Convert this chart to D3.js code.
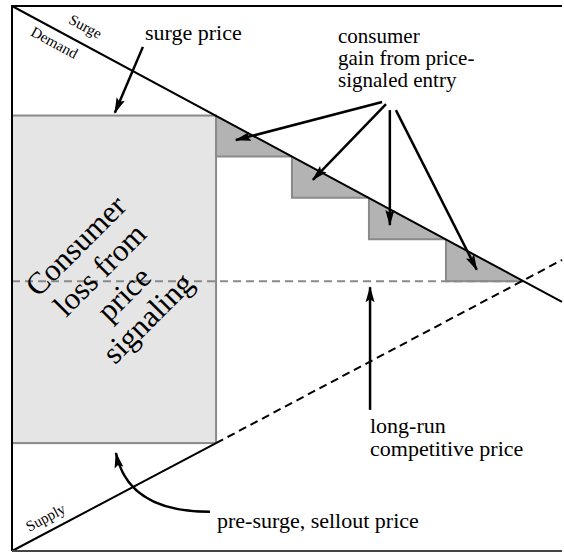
<!DOCTYPE html>
<html>
<head>
<meta charset="utf-8">
<script src="https://cdn.jsdelivr.net/npm/d3@7"></script>
<style>
    body { margin: 0; background: #fff; }
</style>
</head>
<body>
<div id="chart"></div>
<script>

// ---- data (quantity on x, price on y, both 0..10) ----
let demandQ = [0, 10];
let demandP = [10, 4.57];

let supplyQ = [0, 3.71, 10];          // solid up to the surge quantity, dashed after
let supplyP = [0, 1.98, 5.34];

let surgeQ = 3.71;
let surgePrice = 7.99;
let preSurgePrice = 1.98;
let competitivePrice = 4.95;

// quantities where new entrants come in, and the price at each
let entryQ = [3.71, 5.09, 6.49, 7.89, 9.29];
let entryP = [7.99, 7.24, 6.48, 5.72, 4.95];

// annotation arrows, in data units: [q0, p0, q1, p1]
let gainArrows = [
    [6.73, 8.24, 4.07, 7.54],
    [6.80, 8.20, 5.47, 6.81],
    [6.87, 8.09, 6.87, 5.98],
    [6.98, 8.09, 8.45, 5.16]
];
let surgeArrow = [2.38, 9.25, 1.87, 8.04];
let competitiveArrow = [6.51, 2.59, 6.51, 4.84];
let preSurgeArrow = [3.60, 0.72, 2.11, 0.72, 1.89, 1.80];   // start, control, end

let gainLabel = ["consumer", "gain from price-", "signaled entry"];
let competitiveLabel = ["long-run", "competitive price"];
let lossLabel = ["Consumer", "loss from", "price", "signaling"];


let width = 564, height = 554;
let serif = "'Liberation Serif', 'Times New Roman', 'DejaVu Serif', serif";

let svg = d3.select("#chart").append("svg")
    .attr("width", width)
    .attr("height", height)
    .attr("font-family", serif)
    .style("font-family", serif);

// scales
let x = d3.scaleLinear().domain([0, 10]).range([12, 562]);
let y = d3.scaleLinear().domain([0, 10]).range([551, 6]);

let line = d3.line().x(d => x(d[0])).y(d => y(d[1]));

// arrow head
svg.append("defs").append("marker")
    .attr("id", "head")
    .attr("viewBox", "0 0 16 10")
    .attr("refX", 15)
    .attr("refY", 5)
    .attr("markerWidth", 16)
    .attr("markerHeight", 10)
    .attr("markerUnits", "userSpaceOnUse")
    .attr("orient", "auto")
    .append("path")
    .attr("d", "M0,0.5 L16,5 L0,9.5 L3,5 Z")
    .attr("fill", "#000");

// consumer loss rectangle
svg.append("rect")
    .attr("x", x(0))
    .attr("y", y(surgePrice))
    .attr("width", x(surgeQ) - x(0))
    .attr("height", y(preSurgePrice) - y(surgePrice))
    .attr("fill", "#e5e5e5")
    .attr("stroke", "#8a8a8a")
    .attr("stroke-width", 2);

// consumer gain triangles
let steps = d3.range(entryQ.length - 1).map(i => ({
    q0: entryQ[i], q1: entryQ[i + 1], pTop: entryP[i], pBot: entryP[i + 1]
}));

svg.selectAll("path.gain")
    .data(steps)
    .enter()
    .append("path")
    .attr("class", "gain")
    .attr("d", d => line([[d.q0, d.pTop], [d.q1, d.pBot], [d.q0, d.pBot]]) + "Z")
    .attr("fill", "#b3b3b3");

svg.selectAll("path.step")
    .data(steps)
    .enter()
    .append("path")
    .attr("class", "step")
    .attr("d", d => line([[d.q0, d.pTop], [d.q0, d.pBot], [d.q1, d.pBot]]))
    .attr("fill", "none")
    .attr("stroke", "#8a8a8a")
    .attr("stroke-width", 2);

// long-run competitive price
svg.append("path")
    .attr("d", line([[0, competitivePrice], [entryQ[entryQ.length - 1], competitivePrice]]))
    .attr("stroke", "#8a8a8a")
    .attr("stroke-width", 2)
    .attr("stroke-dasharray", "8,5");

// demand
svg.append("path")
    .attr("d", line(demandQ.map((q, i) => [q, demandP[i]])))
    .attr("fill", "none")
    .attr("stroke", "#000")
    .attr("stroke-width", 2);

// supply: solid then dashed
let supplyPts = supplyQ.map((q, i) => [q, supplyP[i]]);
svg.append("path")
    .attr("d", line(supplyPts.slice(0, 2)))
    .attr("stroke", "#000")
    .attr("stroke-width", 2);
svg.append("path")
    .attr("d", line(supplyPts.slice(1)))
    .attr("stroke", "#000")
    .attr("stroke-width", 2)
    .attr("stroke-dasharray", "8,5");

// frame (top, left, bottom)
svg.append("path")
    .attr("d", "M" + x(10) + "," + y(10) + "H" + x(0) + "V" + y(0))
    .attr("fill", "none")
    .attr("stroke", "#000")
    .attr("stroke-width", 2);
svg.append("path")
    .attr("d", "M" + x(0) + "," + y(0) + "H" + x(10))
    .attr("stroke", "#444")
    .attr("stroke-width", 2);

// arrows
let arrows = gainArrows.concat([surgeArrow, competitiveArrow]);
svg.selectAll("line.arrow")
    .data(arrows)
    .enter()
    .append("line")
    .attr("class", "arrow")
    .attr("x1", d => x(d[0]))
    .attr("y1", d => y(d[1]))
    .attr("x2", d => x(d[2]))
    .attr("y2", d => y(d[3]))
    .attr("stroke", "#000")
    .attr("stroke-width", 2.5)
    .attr("marker-end", "url(#head)");

let a = preSurgeArrow;
svg.append("path")
    .attr("d", "M" + x(a[0]) + "," + y(a[1]) + "Q" + x(a[2]) + "," + y(a[3]) + " " + x(a[4]) + "," + y(a[5]))
    .attr("fill", "none")
    .attr("stroke", "#000")
    .attr("stroke-width", 2.5)
    .attr("marker-end", "url(#head)");

// curve labels
let angle = Math.atan2(y(demandP[1]) - y(demandP[0]), x(demandQ[1]) - x(demandQ[0])) * 180 / Math.PI;

svg.append("text")
    .attr("transform", "translate(83,31) rotate(" + angle + ")")
    .attr("text-anchor", "middle")
    .style("font-size", "15px")
    .text("Surge");
svg.append("text")
    .attr("transform", "translate(52,47) rotate(" + angle + ")")
    .attr("text-anchor", "middle")
    .style("font-size", "15px")
    .text("Demand");
svg.append("text")
    .attr("transform", "translate(48,522) rotate(" + (-angle) + ")")
    .attr("text-anchor", "middle")
    .style("font-size", "15px")
    .text("Supply");

// annotation labels
svg.append("text")
    .attr("x", 145)
    .attr("y", 40)
    .style("font-size", "22px")
    .text("surge price");

svg.append("text")
    .attr("x", 338)
    .attr("y", 43)
    .style("font-size", "21px")
    .selectAll("tspan")
    .data(gainLabel)
    .enter()
    .append("tspan")
    .attr("x", 338)
    .attr("dy", (d, i) => i === 0 ? 0 : 22)
    .text(d => d);

svg.append("text")
    .attr("x", 370)
    .attr("y", 433)
    .style("font-size", "22px")
    .selectAll("tspan")
    .data(competitiveLabel)
    .enter()
    .append("tspan")
    .attr("x", 370)
    .attr("dy", (d, i) => i === 0 ? 0 : 23)
    .text(d => d);

svg.append("text")
    .attr("x", 217)
    .attr("y", 528)
    .style("font-size", "22px")
    .text("pre-surge, sellout price");

// big rotated label in the loss rectangle
svg.append("text")
    .attr("transform", "translate(112,282) rotate(-45)")
    .attr("text-anchor", "middle")
    .style("font-size", "31px")
    .selectAll("tspan")
    .data(lossLabel)
    .enter()
    .append("tspan")
    .attr("x", 0)
    .attr("y", (d, i) => (i - 1.5) * 34 + 10)
    .text(d => d);

</script>
</body>
</html>
